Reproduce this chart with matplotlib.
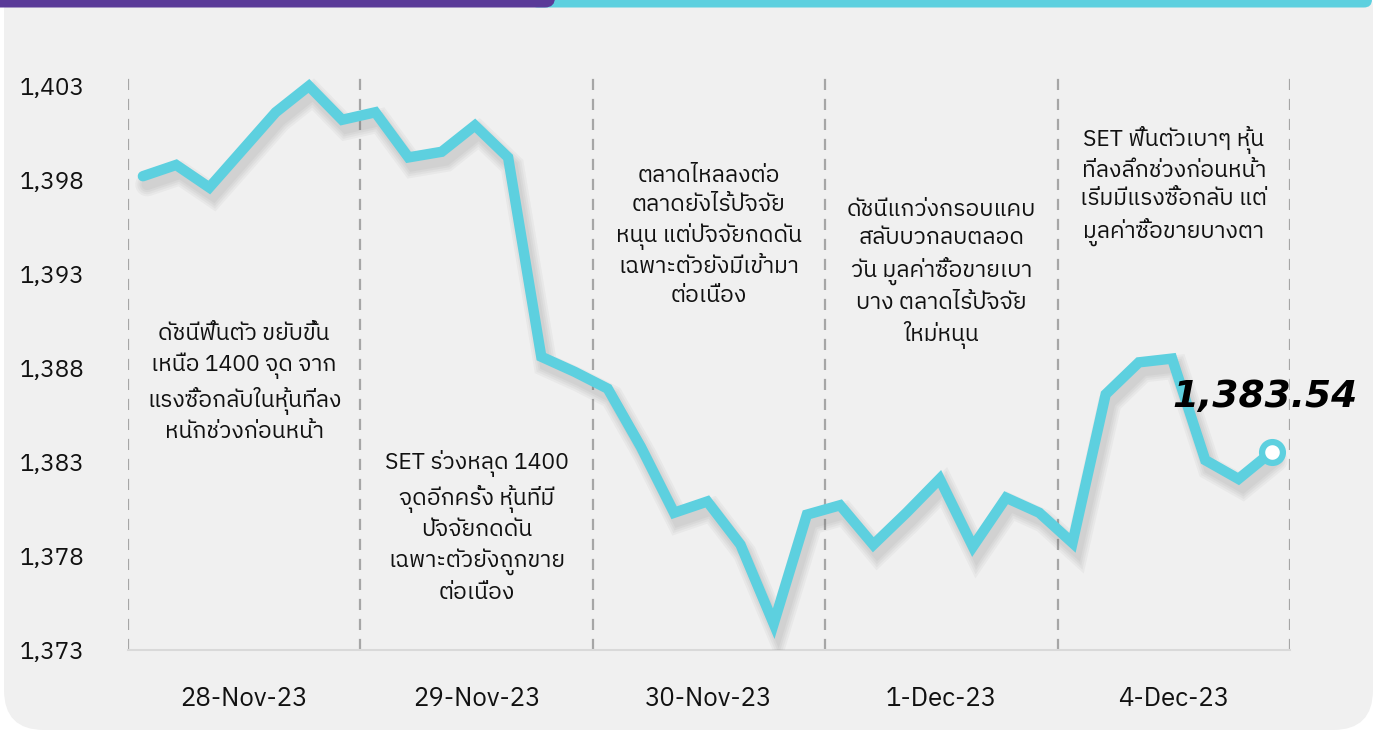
import matplotlib
matplotlib.use('Agg')
import matplotlib.pyplot as plt
import matplotlib.patheffects as pe
from matplotlib import font_manager
from matplotlib.ft2font import FT2Font
from matplotlib.patches import FancyBboxPatch
import numpy as np

# SET index, 7 readings per trading day
days = ['28-Nov-23', '29-Nov-23', '30-Nov-23', '1-Dec-23', '4-Dec-23']
values = [1398.2, 1398.8, 1397.6, 1399.6, 1401.6, 1403.0, 1401.2,
          1401.6, 1399.2, 1399.5, 1400.9, 1399.2, 1388.6, 1387.8,
          1386.9, 1383.8, 1380.3, 1380.9, 1378.6, 1374.4, 1380.2,
          1380.7, 1378.6, 1380.3, 1382.1, 1378.5, 1381.1, 1380.3,
          1378.7, 1386.6, 1388.3, 1388.5, 1383.1, 1382.1, 1383.54]
yticks = [1373, 1378, 1383, 1388, 1393, 1398, 1403]
notes = [
    'ดัชนีฟื้นตัว ขยับขึ้น\nเหนือ 1400 จุด จาก\nแรงซื้อกลับในหุ้นที่ลง\nหนักช่วงก่อนหน้า',
    'SET ร่วงหลุด 1400\nจุดอีกครั้ง หุ้นที่มี\nปัจจัยกดดัน\nเฉพาะตัวยังถูกขาย\nต่อเนื่อง',
    'ตลาดไหลลงต่อ\nตลาดยังไร้ปัจจัย\nหนุน แต่ปัจจัยกดดัน\nเฉพาะตัวยังมีเข้ามา\nต่อเนื่อง',
    'ดัชนีแกว่งกรอบแคบ\nสลับบวกลบตลอด\nวัน มูลค่าซื้อขายเบา\nบาง ตลาดไร้ปัจจัย\nใหม่หนุน',
    'SET ฟื้นตัวเบาๆ หุ้น\nที่ลงลึกช่วงก่อนหน้า\nเริ่มมีแรงซื้อกลับ แต่\nมูลค่าซื้อขายบางตา',
]
note_y = [0.46, 0.212, 0.714, 0.648, 0.80]

# find an installed family that has Thai glyphs
thai = None
for f in font_manager.fontManager.ttflist:
    try:
        if 0x0E01 in FT2Font(f.fname).get_charmap():
            thai = f.name
            if 'Sans' in f.name:
                break
    except Exception:
        pass
fams = ([thai] if thai else []) + ['DejaVu Sans']
plt.rcParams['font.family'] = fams

cyan = '#5dd0df'
purple = '#5a3a98'

fig = plt.figure(figsize=(13.73, 7.32), dpi=100, facecolor='white')
px = fig.dpi_scale_trans
# background panel and top bars
fig.add_artist(FancyBboxPatch((0.04, 0.02), 13.69, 7.6, boxstyle='round,pad=0,rounding_size=0.4',
                              transform=px, fc='#f0f0f0', ec='none', zorder=0))
fig.add_artist(FancyBboxPatch((5.3, 7.245), 8.42, 0.3, boxstyle='round,pad=0,rounding_size=0.08',
                              transform=px, fc=cyan, ec='none', zorder=1))
fig.add_artist(FancyBboxPatch((-0.2, 7.245), 5.75, 0.3, boxstyle='round,pad=0,rounding_size=0.1',
                              transform=px, fc=purple, ec='none', zorder=2))

ax = fig.add_axes([0.0932, 0.112, 0.8463, 0.7924])
ax.set_facecolor('none')
x = np.arange(len(values))
ax.set_xlim(-0.45, len(values) - 0.45)
ax.set_ylim(1373, 1403.85)

for k in range(len(days) + 1):
    ax.axvline(-0.45 + 7 * k, color='#a6a6a6', lw=1.6, ls=(0, (5, 4)), zorder=1)

shadow = [pe.SimpleLineShadow(offset=(3, -6), shadow_color='#555555', alpha=0.05, rho=1, linewidth=w)
          for w in (17, 14, 11, 8)]
ax.plot(x, values, color=cyan, lw=7.5, solid_joinstyle='miter', solid_capstyle='round', zorder=3,
        path_effects=shadow + [pe.Normal()])
ax.plot(x[-1], values[-1], 'o', ms=15, mfc='white', mec=cyan, mew=4.5, zorder=4)
ax.text(x[-1] - 0.2, values[-1] + 2.9, '{:,.2f}'.format(values[-1]), fontsize=27, fontweight='bold',
        fontstyle='italic', ha='center', va='center', color='black', family=['DejaVu Sans'], zorder=5)

for k, (t, ty) in enumerate(zip(notes, note_y)):
    ax.text(0.1 + 0.2 * k, ty, t, transform=ax.transAxes, ha='center', va='center', fontsize=16.5,
            linespacing=1.38, color='#111111', zorder=2)

ax.set_yticks(yticks)
ax.set_yticklabels(['{:,}'.format(v) for v in yticks], fontsize=17.5, color='#111111')
ax.set_xticks([3.05 + 7 * k for k in range(len(days))])
ax.set_xticklabels(days, fontsize=18.5, color='#111111')
ax.tick_params(axis='y', length=0, pad=31)
ax.tick_params(axis='x', length=0, pad=26)
for s in ['left', 'right', 'top']:
    ax.spines[s].set_visible(False)
ax.spines['bottom'].set_color('#d9d9d9')
ax.spines['bottom'].set_linewidth(1.5)

fig.savefig('out.png', dpi=100, facecolor='white')
